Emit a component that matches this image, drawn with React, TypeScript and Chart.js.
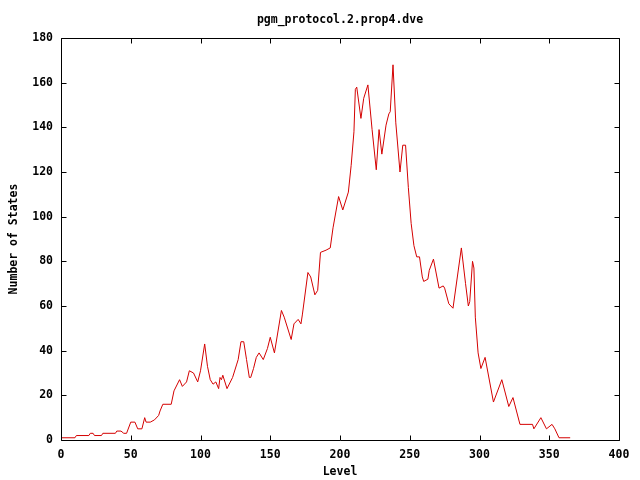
import React, { useEffect, useRef } from "react";
import { Chart, registerables } from "chart.js";

Chart.register(...registerables);

const TITLE = "pgm_protocol.2.prop4.dve";
const X_LABEL = "Level";
const Y_LABEL = "Number of States";
const X_TICKS = [0, 50, 100, 150, 200, 250, 300, 350, 400];
const Y_TICKS = [0, 20, 40, 60, 80, 100, 120, 140, 160, 180];

const levels = [
  0, 10, 11, 20, 21, 23, 24, 29, 30, 39, 40, 43, 45, 47, 50, 53, 55, 58, 60, 61,
  64, 67, 70, 71, 73, 79, 81, 85, 87, 90, 92, 95, 98, 100, 103, 105, 107, 109, 111, 113,
  114, 115, 116, 119, 123, 126, 127, 129, 131, 133, 135, 136, 138, 140, 142, 145, 148, 150, 153, 158,
  160, 165, 167, 170, 172, 173, 177, 179, 182, 184, 186, 190, 193, 195, 199, 202, 206, 208, 210, 211,
  212, 215, 217, 220, 223, 226, 228, 230, 233, 235, 236, 238, 240, 243, 245, 247, 249, 251, 253, 255,
  257, 259, 260, 263, 264, 267, 271, 274, 275, 278, 281, 287, 290, 292, 293, 295, 296, 297, 299, 301,
  304, 310, 316, 321, 324, 329, 338, 339, 344, 348, 352, 354, 357, 365,
];

const states = [
  1, 1, 2, 2, 3, 3, 2, 2, 3, 3, 4, 4, 3, 3, 8, 8, 5, 5, 10, 8,
  8, 9, 11, 13, 16, 16, 22, 27, 24, 26, 31, 30, 26, 31, 43, 33, 27, 25, 26, 23,
  28, 27, 29, 23, 28, 34, 36, 44, 44, 36, 28, 28, 32, 37, 39, 36, 41, 46, 39, 58,
  55, 45, 52, 54, 52, 56, 75, 73, 65, 67, 84, 85, 86, 95, 109, 103, 111, 123, 138, 157,
  158, 144, 153, 159, 139, 121, 139, 128, 141, 146, 147, 168, 142, 120, 132, 132, 113, 97, 87, 82,
  82, 73, 71, 72, 76, 81, 68, 69, 68, 61, 59, 86, 70, 60, 62, 80, 77, 55, 39, 32,
  37, 17, 27, 15, 19, 7, 7, 5, 10, 5, 7, 5, 1, 1,
];

const FONT_FAMILY = '"DejaVu Sans Mono", "Liberation Mono", monospace';

const framePlugin = {
  id: "gnuframe",
  afterDraw(chart: any) {
    const { ctx, chartArea, scales } = chart;
    const { left, right, top, bottom } = chartArea;
    const xs = scales.x;
    const ys = scales.y;
    const L = Math.floor(left) + 0.5;
    const R = Math.floor(right) + 0.5;
    const T = Math.floor(top) + 0.5;
    const B = Math.floor(bottom) + 0.5;
    const tl = 5;
    ctx.save();
    ctx.strokeStyle = "#000";
    ctx.lineWidth = 1;
    ctx.beginPath();
    ctx.rect(L, T, R - L, B - T);
    for (const v of X_TICKS) {
      const p = Math.round(xs.getPixelForValue(v)) + 0.5;
      ctx.moveTo(p, B);
      ctx.lineTo(p, B - tl);
      ctx.moveTo(p, T);
      ctx.lineTo(p, T + tl);
    }
    for (const v of Y_TICKS) {
      const p = Math.round(ys.getPixelForValue(v)) + 0.5;
      ctx.moveTo(L, p);
      ctx.lineTo(L + tl, p);
      ctx.moveTo(R, p);
      ctx.lineTo(R - tl, p);
    }
    ctx.stroke();
    ctx.fillStyle = "#000";
    ctx.font = `bold 11.5px ${FONT_FAMILY}`;
    ctx.textAlign = "center";
    ctx.textBaseline = "middle";
    ctx.fillText(TITLE, (left + right) / 2, 20);
    ctx.restore();
  },
};

export default function App() {
  const ref = useRef<HTMLCanvasElement | null>(null);
  useEffect(() => {
    if (!ref.current) return;
    const data = levels.map((l, i) => ({ x: l, y: states[i] }));
    const tickFont = { family: FONT_FAMILY, weight: "bold" as const, size: 11.5 };
    const chart = new Chart(ref.current, {
      type: "line",
      data: {
        datasets: [
          {
            data,
            borderColor: "#d40000",
            borderWidth: 1,
            pointRadius: 0,
            tension: 0,
            fill: false,
          },
        ],
      },
      options: {
        animation: false,
        responsive: false,
        maintainAspectRatio: false,
        parsing: true,
        layout: { padding: { top: 38, right: 21, left: 0, bottom: 0 } },
        plugins: {
          legend: { display: false },
          tooltip: { enabled: false },
          title: { display: false },
        },
        scales: {
          x: {
            type: "linear",
            min: 0,
            max: 400,
            grid: { display: false, drawTicks: false },
            border: { display: false },
            ticks: {
              stepSize: 50,
              color: "#000",
              font: tickFont,
              padding: 8,
              maxRotation: 0,
            },
            title: {
              display: true,
              text: X_LABEL,
              color: "#000",
              font: tickFont,
              padding: { top: 0, bottom: 1 },
            },
            afterFit: (s: any) => {
              s.height = 40;
            },
          },
          y: {
            type: "linear",
            min: 0,
            max: 180,
            grid: { display: false, drawTicks: false },
            border: { display: false },
            ticks: {
              stepSize: 20,
              color: "#000",
              font: tickFont,
              padding: 8,
            },
            title: {
              display: true,
              text: Y_LABEL,
              color: "#000",
              font: tickFont,
              padding: { top: 7, bottom: 0 },
            },
            afterFit: (s: any) => {
              s.width = 61;
            },
          },
        },
      },
      plugins: [framePlugin],
    });
    return () => chart.destroy();
  }, []);
  return (
    <div style={{ position: "fixed", left: 0, top: 0, width: 640, height: 480, background: "#fff" }}>
      <canvas ref={ref} width={640} height={480} />
    </div>
  );
}
